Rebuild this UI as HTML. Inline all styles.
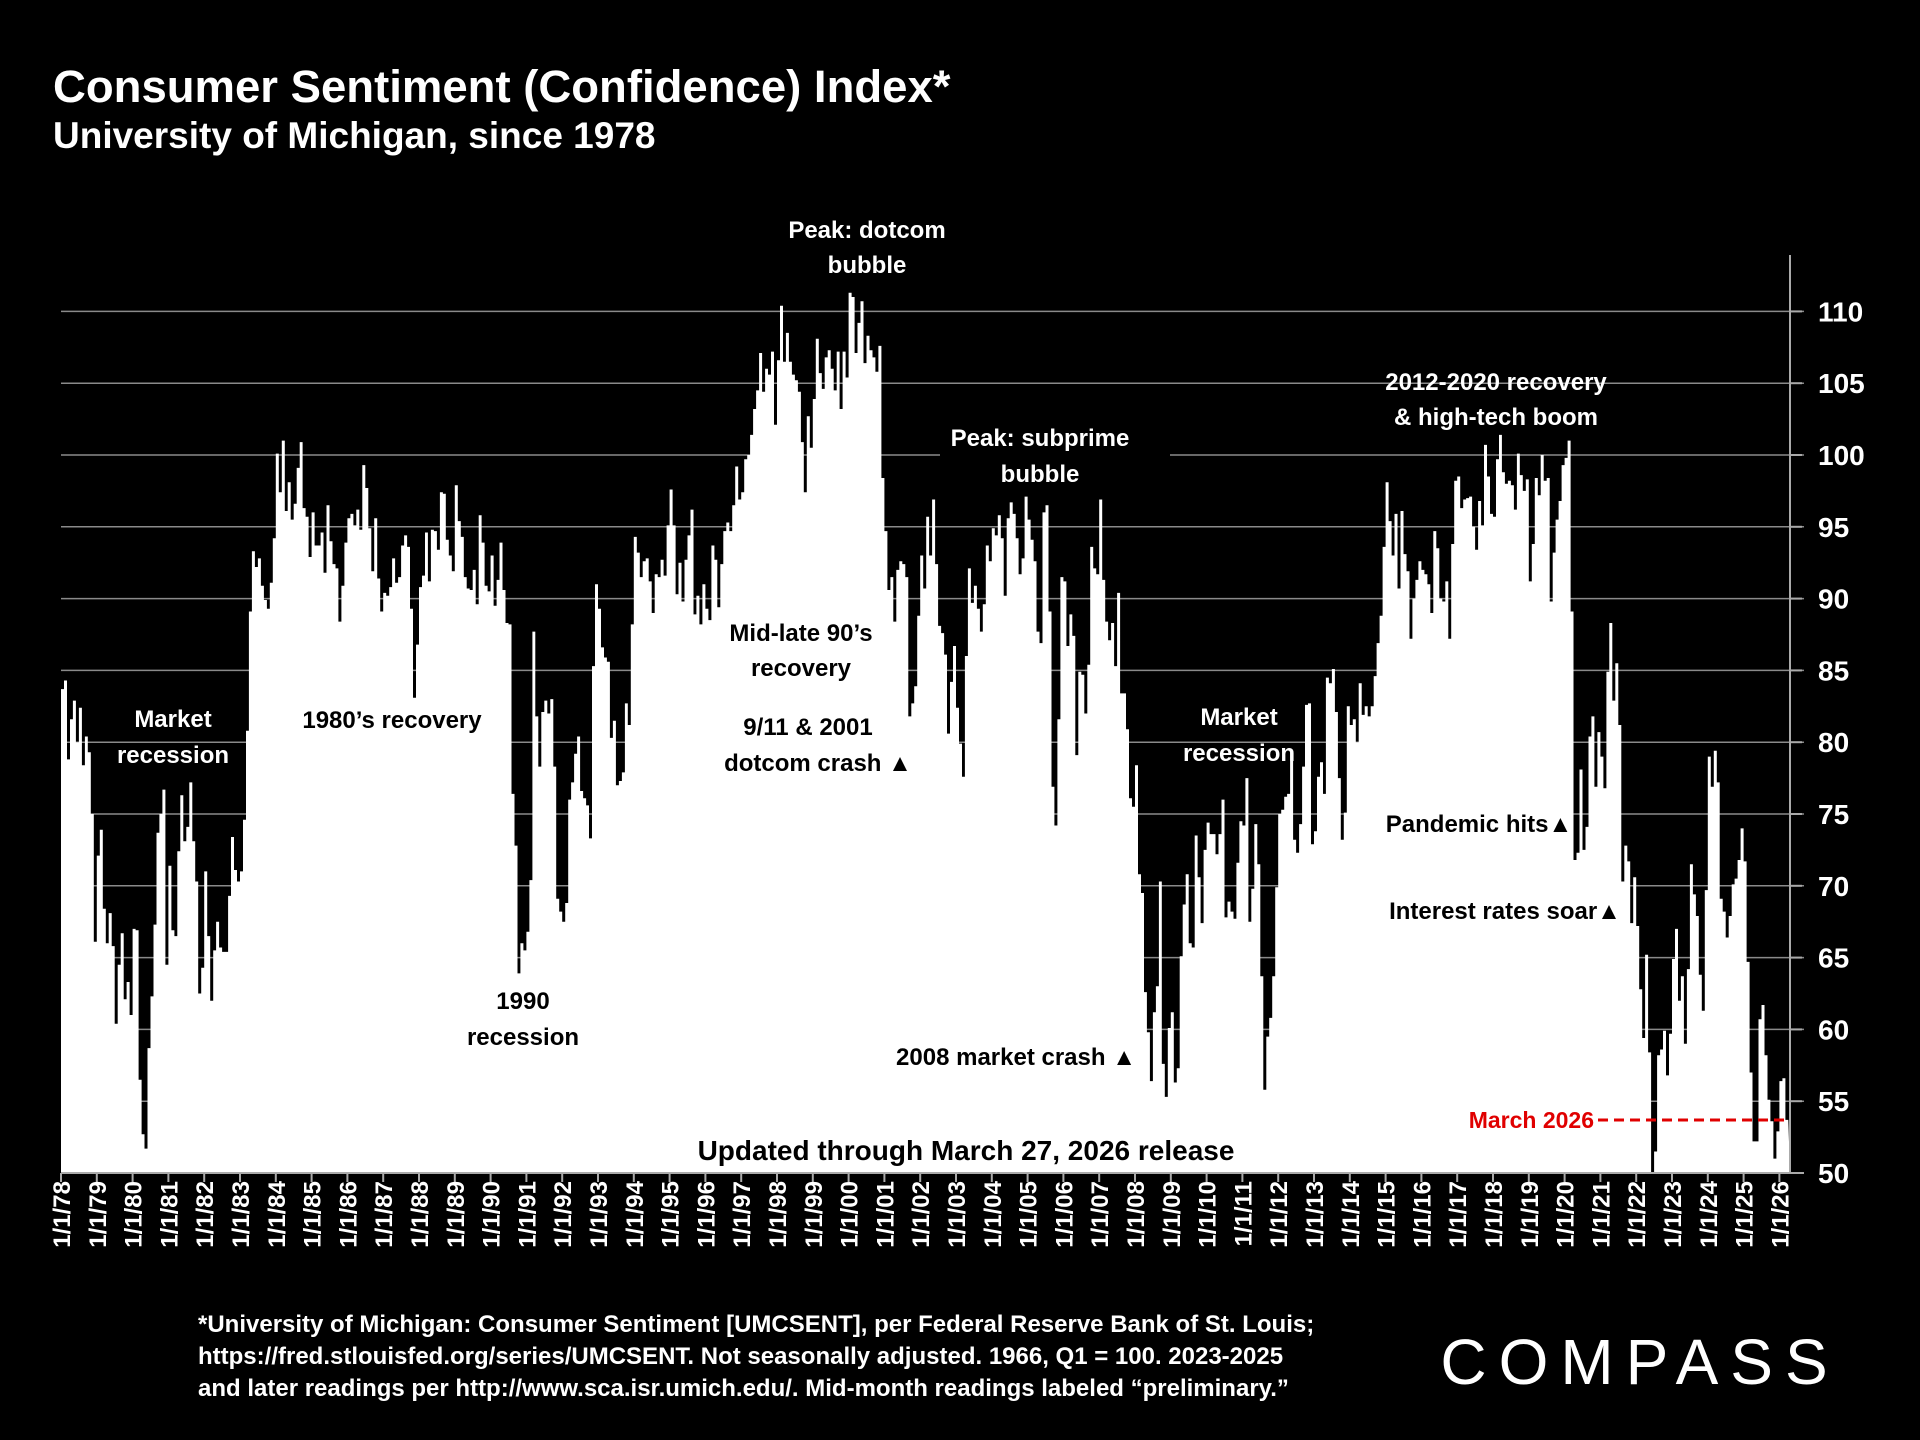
<!DOCTYPE html>
<html><head><meta charset="utf-8"><style>
html,body{margin:0;padding:0;background:#000;width:1920px;height:1440px;overflow:hidden}
svg{display:block}
text{font-family:"Liberation Sans",sans-serif;font-weight:bold}
</style></head><body>
<svg id="s" width="1920" height="1440" viewBox="0 0 1920 1440" xmlns="http://www.w3.org/2000/svg">
<rect width="1920" height="1440" fill="#000"/>
<text x="53" y="102" fill="#fff" font-size="45.5">Consumer Sentiment (Confidence) Index*</text>
<text x="53" y="148" fill="#fff" font-size="37">University of Michigan, since 1978</text>
<g id="grid"></g>
<path id="area" fill="#fff"/>
<g id="axes"></g>
<g font-size="24" text-anchor="middle">
<text x="173" y="727" fill="#fff">Market</text><text x="173" y="763" fill="#fff">recession</text>
<text x="392" y="728" fill="#000">1980’s recovery</text>
<text x="523" y="1009" fill="#000">1990</text><text x="523" y="1045" fill="#000">recession</text>
<text x="801" y="641" fill="#000">Mid-late 90’s</text><text x="801" y="676" fill="#000">recovery</text>
<text x="808" y="735" fill="#000">9/11 &amp; 2001</text><text x="818" y="771" fill="#000">dotcom crash ▲</text>
<text x="867" y="238" fill="#fff">Peak: dotcom</text><text x="867" y="273" fill="#fff">bubble</text>
<rect x="940" y="420" width="230" height="70" fill="#000"/>
<text x="1040" y="446" fill="#fff">Peak: subprime</text><text x="1040" y="482" fill="#fff">bubble</text>
<text x="1016" y="1065" fill="#000">2008 market crash ▲</text>
<text x="1239" y="725" fill="#fff">Market</text><text x="1239" y="761" fill="#fff">recession</text>
<text x="1496" y="390" fill="#fff">2012-2020 recovery</text><text x="1496" y="425" fill="#fff">&amp; high-tech boom</text>
<text x="1479" y="832" fill="#000">Pandemic hits▲</text>
<text x="1505" y="919" fill="#000">Interest rates soar▲</text>
<text x="966" y="1160" fill="#000" font-size="28">Updated through March 27, 2026 release</text>
<text x="1594" y="1128" fill="#e00000" text-anchor="end" font-size="23">March 2026</text>
</g>
<line x1="1598" y1="1120" x2="1790" y2="1120" stroke="#e00000" stroke-width="3" stroke-dasharray="10,6"/>
<g id="yl" font-size="28" fill="#fff"></g>
<g id="xl" font-size="24" fill="#fff"></g>
<g font-size="24" fill="#fff" font-weight="bold">
<text x="198" y="1332">*University of Michigan: Consumer Sentiment [UMCSENT], per Federal Reserve Bank of St. Louis;</text>
<text x="198" y="1364">https://fred.stlouisfed.org/series/UMCSENT. Not seasonally adjusted. 1966, Q1 = 100.  2023-2025</text>
<text x="198" y="1396">and later readings per http://www.sca.isr.umich.edu/.  Mid-month readings labeled “preliminary.”</text>
</g>
<text x="1640" y="1384" fill="#fff" font-size="64" text-anchor="middle" letter-spacing="12" style="font-weight:normal">COMPASS</text>
</svg>
<script>
var d=[83.7,84.3,78.8,81.6,82.9,80.0,82.4,78.4,80.4,79.3,75.0,66.1,
72.1,73.9,68.4,66.0,68.1,65.8,60.4,64.5,66.7,62.1,63.3,61.0,
67.0,66.9,56.5,52.7,51.7,58.7,62.3,67.3,73.7,75.0,76.7,64.5,
71.4,66.9,66.5,72.4,76.3,73.1,74.1,77.2,73.1,70.3,62.5,64.3,
71.0,66.5,62.0,65.5,67.5,65.7,65.4,65.4,69.3,73.4,71.1,70.3,
71.0,74.6,80.8,89.1,93.3,92.2,92.8,90.9,89.9,89.3,91.1,94.2,
100.1,97.4,101.0,96.1,98.1,95.5,96.6,99.1,100.9,96.3,95.7,92.9,
96.0,93.7,93.7,94.6,91.8,96.5,94.0,92.4,92.1,88.4,90.9,93.9,
95.6,95.9,95.1,96.2,94.8,99.3,97.7,94.9,91.9,95.6,91.4,89.1,
90.4,90.2,90.8,92.8,91.1,91.5,93.7,94.4,93.6,89.3,83.1,86.8,
90.8,91.6,94.6,91.2,94.8,94.7,93.4,97.4,97.3,94.1,93.0,91.9,
97.9,95.4,94.3,91.5,90.7,90.6,92.0,89.6,95.8,93.9,90.9,90.5,
93.0,89.5,91.3,93.9,90.6,88.3,88.2,76.4,72.8,63.9,66.0,65.5,
66.8,70.4,87.7,81.8,78.3,82.1,82.9,82.0,83.0,78.3,69.1,68.2,
67.5,68.8,76.0,77.2,79.2,80.4,76.6,76.1,75.6,73.3,85.3,91.0,
89.3,86.6,85.9,85.6,80.3,81.5,77.0,77.3,77.9,82.7,81.2,88.2,
94.3,93.2,91.5,92.6,92.8,91.2,89.0,91.7,91.5,92.7,91.6,95.1,
97.6,95.1,90.3,92.5,89.8,92.7,94.4,96.2,88.9,90.2,88.2,91.0,
89.3,88.5,93.7,92.7,89.4,92.4,94.7,95.3,94.7,96.5,99.2,96.9,
97.4,99.7,100.0,101.4,103.2,104.5,107.1,104.4,106.0,105.6,107.2,102.1,
106.6,110.4,106.5,108.5,106.5,105.6,105.2,104.4,100.9,97.4,102.7,100.5,
103.9,108.1,105.7,104.6,106.8,107.3,106.0,104.5,107.2,103.2,107.2,105.4,
111.3,111.0,107.1,109.2,110.7,106.4,108.3,107.3,106.8,105.8,107.6,98.4,
94.7,90.6,91.5,88.4,92.0,92.6,92.4,91.5,81.8,82.7,83.9,88.8,
93.0,90.7,95.7,93.0,96.9,92.4,88.1,87.6,86.1,80.6,84.2,86.7,
82.4,79.9,77.6,86.0,92.1,89.7,90.9,89.3,87.7,89.6,93.7,92.6,
94.9,94.4,95.8,94.2,90.2,95.6,96.7,95.9,94.2,91.7,92.8,97.1,
95.5,94.1,92.6,87.7,86.9,96.0,96.5,89.1,76.9,74.2,81.6,91.5,
91.2,86.7,88.9,87.4,79.1,84.9,84.7,82.0,85.4,93.6,92.1,91.7,
96.9,91.3,88.4,87.1,88.3,85.3,90.4,83.4,83.4,80.9,76.1,75.5,
78.4,70.8,69.5,62.6,59.8,56.4,61.2,63.0,70.3,57.6,55.3,60.1,
61.2,56.3,57.3,65.1,68.7,70.8,66.0,65.7,73.5,70.6,67.4,72.5,
74.4,73.6,73.6,72.2,73.6,76.0,67.8,68.9,68.2,67.7,71.6,74.5,
74.2,77.5,67.5,69.8,74.3,71.5,63.7,55.8,59.5,60.8,63.7,69.9,
75.0,75.3,76.2,76.4,79.3,73.2,72.3,74.3,78.3,82.6,82.7,72.9,
73.8,77.6,78.6,76.4,84.5,84.1,85.1,82.1,77.5,73.2,75.1,82.5,
81.2,81.6,80.0,84.1,81.9,82.5,81.8,82.5,84.6,86.9,88.8,93.6,
98.1,95.4,93.0,95.9,90.7,96.1,93.1,91.9,87.2,90.0,91.3,92.6,
92.0,91.7,91.0,89.0,94.7,93.5,90.0,89.8,91.2,87.2,93.8,98.2,
98.5,96.3,96.9,97.0,97.1,95.0,93.4,96.8,95.1,100.7,98.5,95.9,
95.7,99.7,101.4,98.8,98.0,98.2,97.9,96.2,100.1,98.6,97.5,98.3,
91.2,93.8,98.4,97.2,100.0,98.2,98.4,89.8,93.2,95.5,96.8,99.3,
99.8,101.0,89.1,71.8,72.3,78.1,72.5,74.1,80.4,81.8,76.9,80.7,
79.0,76.8,84.9,88.3,82.9,85.5,81.2,70.3,72.8,71.7,67.4,70.6,
67.2,62.8,59.4,65.2,58.4,50.0,51.5,58.2,58.6,59.9,56.8,59.7,
64.9,67.0,62.0,63.7,59.0,64.2,71.5,69.4,67.9,63.8,61.3,69.7,
79.0,76.9,79.4,77.2,69.1,68.2,66.4,67.9,70.1,70.5,71.8,74.0,
71.7,64.7,57.0,52.2,52.2,60.7,61.7,58.2,55.1,53.6,51.0,52.9,
56.4,56.6,53.7];
var X0=61,YW=35.8,B=1173,U=14.36,XR=1790;
function y(v){return B-(v-50)*U}
var ns="http://www.w3.org/2000/svg";
function el(p,t,a,txt){var e=document.createElementNS(ns,t);for(var k in a)e.setAttribute(k,a[k]);if(txt)e.textContent=txt;p.appendChild(e);return e}
var g=document.getElementById('grid'),yl=document.getElementById('yl'),ax=document.getElementById('axes'),xl=document.getElementById('xl');
for(var v=55;v<=110;v+=5){el(g,'line',{x1:X0,x2:XR+14,y1:y(v),y2:y(v),stroke:'#8a8a8a','stroke-width':1.5});}
for(var v=50;v<=110;v+=5){el(yl,'text',{x:1818,y:y(v)+10},String(v));}
var p='M'+X0+' '+B;
for(var i=0;i<d.length;i++){var x1=X0+i*YW/12,x2=X0+(i+1)*YW/12;if(x2>XR)x2=XR;p+=' L'+x1.toFixed(1)+' '+y(d[i]).toFixed(1)+' L'+x2.toFixed(1)+' '+y(d[i]).toFixed(1);}
p+=' L'+XR+' '+B+' Z';
document.getElementById('area').setAttribute('d',p);
el(ax,'line',{x1:XR,x2:XR,y1:255,y2:B,stroke:'#aaa','stroke-width':2});
el(ax,'line',{x1:X0,x2:XR+14,y1:B,y2:B,stroke:'#aaa','stroke-width':2});
for(var v=55;v<=110;v+=5)el(ax,'line',{x1:XR,x2:XR+12,y1:y(v),y2:y(v),stroke:'#aaa','stroke-width':2});
for(var yr=0;yr<=48;yr++){var x=X0+yr*YW;
el(ax,'line',{x1:x,x2:x,y1:B,y2:B+9,stroke:'#aaa','stroke-width':2});
var lab='1/1/'+String((78+yr)%100).padStart(2,'0');
el(xl,'text',{x:0,y:0,'text-anchor':'end',transform:'translate('+(x+9)+','+(B+8)+') rotate(-90)'},lab);}
</script>
</body></html>
